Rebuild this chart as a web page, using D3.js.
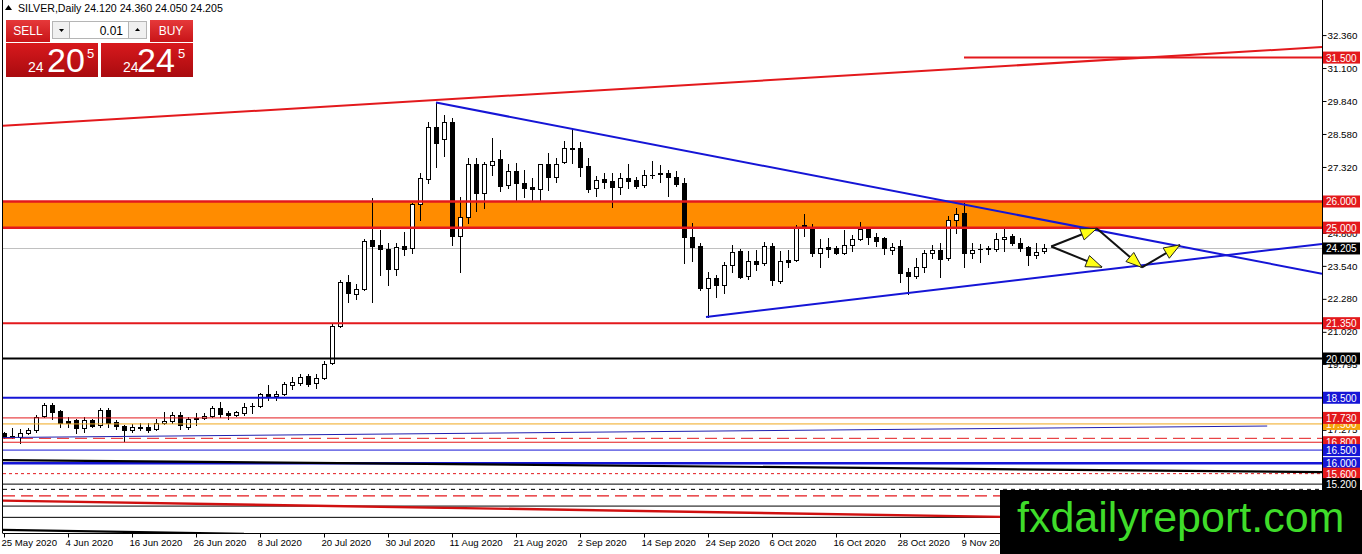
<!DOCTYPE html>
<html>
<head>
<meta charset="utf-8">
<script src="https://cdn.jsdelivr.net/npm/d3@7"></script>
<style>
  body { margin: 0; background: #fff; }
  svg { display: block; font-family: "Liberation Sans", Arial, sans-serif; }
</style>
</head>
<body>
<svg id="chart"></svg>
<script>
// ---- chart values ----
var open = [17.15,17.00,17.00,17.15,17.25,17.80,18.22,17.98,17.60,17.65,17.35,17.65,17.45,18.05,17.57,17.42,17.25,17.40,17.38,17.30,
  17.52,17.60,17.85,17.38,17.68,17.72,17.80,18.10,17.90,17.85,17.90,18.18,18.20,18.65,18.55,18.65,19.00,19.05,19.33,19.08,
  19.25,19.82,21.24,22.92,22.48,22.65,24.52,24.33,24.20,23.42,24.30,24.22,25.90,26.87,28.85,28.40,29.04,24.70,25.42,27.43,
  26.34,27.38,27.61,26.63,27.17,26.70,26.57,26.47,27.43,26.92,27.50,28.05,28.03,27.36,26.50,26.85,26.80,26.57,26.90,26.82,
  26.63,27.00,27.05,27.10,26.92,26.69,24.66,24.30,22.68,23.07,22.81,23.57,24.11,23.15,23.73,23.64,24.30,22.97,23.77,23.77,
  25.06,25.04,24.05,24.27,24.23,24.05,24.34,24.55,24.94,24.63,24.60,24.15,24.30,23.32,23.15,23.51,24.02,24.15,23.83,25.30,
  25.55,24.02,24.17,24.20,24.20,24.56,24.68,24.40,24.25,23.96,24.12];
var high = [17.20,17.35,17.30,17.35,17.85,18.30,18.30,18.05,17.75,17.70,17.75,17.70,18.10,18.10,17.65,17.45,17.50,17.55,17.55,17.68,
  17.95,17.95,17.95,17.78,17.90,17.90,18.18,18.35,18.00,18.00,18.30,18.30,18.70,18.99,18.75,19.10,19.30,19.40,19.40,19.40,
  19.90,21.30,23.00,23.20,22.85,24.55,26.13,24.90,24.40,24.40,24.82,25.95,27.10,29.04,29.78,29.30,29.19,26.18,27.66,27.66,
  27.52,28.42,27.97,27.43,27.48,27.20,26.89,27.45,27.84,27.65,28.32,28.80,28.29,27.65,26.97,27.10,27.08,27.10,27.43,26.95,
  27.20,27.55,27.40,27.20,27.16,26.89,25.16,24.43,23.32,23.19,23.70,24.34,24.20,24.10,24.15,24.47,24.43,24.10,24.15,25.10,
  25.52,25.14,24.56,24.60,24.30,24.91,24.73,25.23,24.96,24.80,24.66,24.40,24.53,23.45,23.83,24.15,24.34,24.43,25.43,25.74,
  25.93,24.43,24.37,24.30,24.79,24.94,24.76,24.60,24.30,24.43,24.36];
var low = [16.95,16.95,16.78,17.10,17.20,17.75,17.68,17.38,17.38,17.15,17.20,17.38,17.40,17.40,17.32,16.85,17.20,17.25,17.20,17.27,
  17.50,17.55,17.30,17.32,17.45,17.70,17.75,17.75,17.70,17.80,17.85,17.90,18.15,18.40,18.40,18.60,18.85,19.00,18.95,18.88,
  19.20,19.80,21.20,22.15,22.28,22.60,22.16,23.20,22.80,23.20,23.95,24.05,25.30,26.70,27.32,27.75,24.34,23.32,25.19,25.65,
  25.74,27.01,26.41,26.51,26.03,26.18,26.06,26.06,26.44,26.76,27.46,27.48,26.97,26.38,26.21,26.50,25.78,26.30,26.50,26.50,
  26.56,26.90,26.75,26.20,26.60,23.64,23.74,22.62,21.60,22.34,22.49,23.32,23.07,23.05,23.38,23.57,22.81,22.90,23.50,23.74,
  24.68,23.90,23.49,23.87,23.98,23.99,24.12,24.53,24.38,24.30,23.99,23.99,22.94,22.47,23.07,23.32,23.83,23.13,23.75,24.81,
  23.49,23.83,23.70,23.98,24.10,24.12,24.33,24.12,23.57,23.83,24.05];
var close = [17.00,17.02,17.15,17.27,17.78,18.22,17.95,17.55,17.52,17.35,17.65,17.42,18.05,17.55,17.42,17.25,17.38,17.35,17.28,17.52,
  17.62,17.85,17.45,17.70,17.72,17.82,18.10,17.88,17.85,17.95,18.15,18.20,18.65,18.55,18.65,19.02,19.12,19.30,19.02,19.27,
  19.80,21.25,22.93,22.50,22.65,24.50,24.30,24.18,23.42,24.25,24.20,25.90,26.90,28.85,28.24,29.04,24.69,25.42,27.43,26.34,
  27.43,27.56,26.59,27.17,26.70,26.53,26.47,27.43,26.92,27.43,28.03,28.00,27.33,26.47,26.82,26.76,26.57,26.90,26.80,26.60,
  27.00,27.02,27.08,26.92,26.67,24.63,24.27,22.68,23.07,22.81,23.57,24.08,23.13,23.73,23.61,24.30,23.00,23.73,23.70,25.04,
  25.10,24.05,24.21,24.20,24.05,24.34,24.56,24.94,24.63,24.50,24.21,24.25,23.28,23.15,23.51,24.05,24.15,23.79,25.30,25.52,
  24.02,24.15,24.20,24.22,24.56,24.66,24.40,24.22,23.96,24.08,24.205];

var dateLabels = ["25 May 2020","4 Jun 2020","16 Jun 2020","26 Jun 2020","8 Jul 2020","20 Jul 2020","30 Jul 2020",
  "11 Aug 2020","21 Aug 2020","2 Sep 2020","14 Sep 2020","24 Sep 2020","6 Oct 2020","16 Oct 2020","28 Oct 2020","9 Nov 2020"];
var dateIdx = [0,8,16,24,32,40,48,56,64,72,80,88,96,104,112,120];

var priceTicks = [32.36,31.10,29.84,28.58,27.32,26.06,24.80,23.54,22.28,21.02,19.795,17.275];

// horizontal levels (price, and where they start in bars)
var levelPrices = [31.5,26.0,25.0,21.35,20.0,18.5,17.5,17.73,16.95,16.8,16.5,16.0,15.6,15.2,15.0,14.75,14.36,13.93];
var levelStart  = [120,-1,-1,-1,-1,-1,-1,-1,-1,-1,-1,-1,-1,-1,-1,-1,-1,-1];
var bandRange = [25.0, 26.0];
var lastPrice = 24.205;

// trend lines as [bar, price] anchors
var redTrend   = [[-0.125,28.89],[164.75,31.90]];
var blueDown   = [[54,29.78],[164.75,23.24]];
var blueUp     = [[87.75,21.59],[164.75,24.38]];
var thinBlue   = [[-0.125,16.98],[157.9,17.42]];
var blackSlope = [[-0.125,16.12],[164.75,15.66]];
var redSlope   = [[-0.125,14.57],[164.75,13.75]];
var blackLow   = [[-0.125,13.45],[30,13.30]];

// projection arrows [bar, price] from -> to
var arrows = [
  [[130.9,24.28],[136.6,24.97]],
  [[136.6,24.97],[142.25,23.48]],
  [[142.25,23.48],[147,24.34]],
  [[130.9,24.28],[137.25,23.49]]
];

// ---- styles ----
var RED = "#e3191c", BLUE = "#1515d6", BLACK = "#000", GOLD = "#f0a81e";
var levelStyle = [
  {c:RED,w:2,box:RED},{c:RED,w:2.5,box:RED},{c:RED,w:2.5,box:RED},{c:RED,w:2,box:RED},
  {c:BLACK,w:2,box:BLACK},{c:BLUE,w:2,box:BLUE},{c:GOLD,w:1,box:"#f5a10a"},{c:RED,w:1,box:RED},
  {c:RED,w:1,d:"12,6"},{c:RED,w:1,box:RED},{c:BLUE,w:1,box:BLUE},{c:BLUE,w:2.5,box:BLUE},
  {c:RED,w:1,d:"3,3",box:RED},{c:BLACK,w:1,box:BLACK},{c:BLACK,w:1,d:"4,4"},{c:RED,w:1.2,d:"12,6"},
  {c:BLACK,w:1},{c:BLACK,w:1}
];

var W = 1362, H = 554;
var svg = d3.select("#chart").attr("width", W).attr("height", H);
svg.append("rect").attr("width", W).attr("height", H).attr("fill", "#fff");

var x = d3.scaleLinear().domain([0, 164.75]).range([4, 1322]);
var y = d3.scaleLinear().domain([13.37, 33.70]).range([532, 0]);
var fmt = d3.format(".3f");

svg.append("clipPath").attr("id", "plot")
  .append("rect").attr("x", 3).attr("y", 0).attr("width", 1319).attr("height", 533);
var g = svg.append("g").attr("clip-path", "url(#plot)");

// orange zone
g.append("rect")
  .attr("x", 3).attr("width", 1319)
  .attr("y", y(bandRange[1])).attr("height", y(bandRange[0]) - y(bandRange[1]))
  .attr("fill", "#ff8c00");

// bid line
g.append("line").attr("x1", 3).attr("x2", 1322)
  .attr("y1", Math.round(y(lastPrice)) + 0.5).attr("y2", Math.round(y(lastPrice)) + 0.5)
  .attr("stroke", "#c0c0c0");

// candles
var bars = d3.range(open.length);
var cg = g.selectAll("g.c").data(bars).enter().append("g");
cg.append("line")
  .attr("x1", function(i) { return Math.round(x(i)) + 0.5; })
  .attr("x2", function(i) { return Math.round(x(i)) + 0.5; })
  .attr("y1", function(i) { return Math.round(y(high[i])); })
  .attr("y2", function(i) { return Math.round(y(low[i])) + 1; })
  .attr("stroke", "#000");
cg.append("rect")
  .attr("x", function(i) { return Math.round(x(i)) - 2 + 0.5; })
  .attr("width", 4)
  .attr("y", function(i) { return Math.round(y(Math.max(open[i], close[i]))) + 0.5; })
  .attr("height", function(i) {
    return Math.max(0.01, Math.round(y(Math.min(open[i], close[i]))) - Math.round(y(Math.max(open[i], close[i]))));
  })
  .attr("fill", function(i) { return close[i] >= open[i] ? "#fff" : "#000"; })
  .attr("stroke", "#000");

// horizontal levels
levelPrices.forEach(function(p, k) {
  var s = levelStyle[k];
  var yy = y(p);
  g.append("line")
    .attr("x1", levelStart[k] < 0 ? 3 : x(levelStart[k])).attr("x2", 1322)
    .attr("y1", yy).attr("y2", yy)
    .attr("stroke", s.c).attr("stroke-width", s.w)
    .attr("stroke-dasharray", s.d || null);
});

// trend lines
var line = d3.line().x(function(d) { return x(d[0]); }).y(function(d) { return y(d[1]); });
[[redTrend, RED, 2], [blueDown, BLUE, 2], [blueUp, BLUE, 2], [thinBlue, "#2020b0", 1],
 [blackSlope, BLACK, 2.2], [redSlope, "#d01010", 2.4], [blackLow, BLACK, 2.2]].forEach(function(t) {
  g.append("path").attr("d", line(t[0])).attr("fill", "none")
    .attr("stroke", t[1]).attr("stroke-width", t[2]);
});

// arrows
arrows.forEach(function(a) {
  var x1 = x(a[0][0]), y1 = y(a[0][1]), x2 = x(a[1][0]), y2 = y(a[1][1]);
  g.append("line").attr("x1", x1).attr("y1", y1).attr("x2", x2).attr("y2", y2)
    .attr("stroke", "#111").attr("stroke-width", 2);
  var ang = Math.atan2(y2 - y1, x2 - x1), L = 16, hw = 6;
  var bx = x2 - L * Math.cos(ang), by = y2 - L * Math.sin(ang);
  var px = -Math.sin(ang) * hw, py = Math.cos(ang) * hw;
  g.append("path")
    .attr("d", "M" + x2 + "," + y2 + "L" + (bx + px) + "," + (by + py) + "L" + (bx - px) + "," + (by - py) + "Z")
    .attr("fill", "#ffff14").attr("stroke", "#222").attr("stroke-width", 1);
});

// frame
svg.append("line").attr("x1", 2.5).attr("x2", 2.5).attr("y1", 0).attr("y2", 533).attr("stroke", "#000");

// bottom axis
var xAxis = svg.append("g").attr("transform", "translate(0,533.5)")
  .call(d3.axisBottom(x).tickValues(dateIdx).tickSize(4).tickSizeOuter(0)
    .tickFormat(function(d, i) { return dateLabels[i]; }));
xAxis.select(".domain").attr("d", "M2.5,0H1322.5").attr("stroke", "#000");
xAxis.selectAll("text").attr("text-anchor", "start").attr("dx", "-3")
  .attr("y", 6).attr("font-size", "9.6px").attr("font-family", "Liberation Sans, Arial, sans-serif").attr("fill", "#000");

// right axis
var yAxis = svg.append("g").attr("transform", "translate(1322.5,0)")
  .call(d3.axisRight(y).tickValues(priceTicks).tickSize(4).tickSizeOuter(0).tickFormat(fmt));
yAxis.select(".domain").attr("d", "M0,0V533.5").attr("stroke", "#000");
yAxis.selectAll("text").attr("x", 5).attr("font-size", "9.8px")
  .attr("font-family", "Liberation Sans, Arial, sans-serif").attr("fill", "#000");

// level price boxes
var boxes = [];
levelPrices.forEach(function(p, k) { if (levelStyle[k].box) boxes.push([p, levelStyle[k].box]); });
boxes.splice(3, 0, [lastPrice, "#000"]);
boxes.forEach(function(b) {
  var yy = y(b[0]);
  svg.append("rect").attr("x", 1323).attr("y", yy - 6).attr("width", 37).attr("height", 12).attr("fill", b[1]);
  svg.append("text").attr("x", 1326).attr("y", yy + 4).attr("font-size", "10px").attr("fill", "#fff").text(fmt(b[0]));
});

// header
svg.append("path").attr("d", "M5,10L8.5,5L12,10Z").attr("fill", "#000");
svg.append("text").attr("x", 18).attr("y", 12).attr("font-size", "10.6px").attr("fill", "#000")
  .text("SILVER,Daily  24.120 24.360 24.050 24.205");

// one-click trading panel
var defs = svg.append("defs");
var gb = defs.append("linearGradient").attr("id", "btn").attr("x1", 0).attr("x2", 0).attr("y1", 0).attr("y2", 1);
gb.append("stop").attr("offset", 0).attr("stop-color", "#e6393a");
gb.append("stop").attr("offset", 1).attr("stop-color", "#c81418");
var gp = defs.append("linearGradient").attr("id", "big").attr("x1", 0).attr("x2", 0).attr("y1", 0).attr("y2", 1);
gp.append("stop").attr("offset", 0).attr("stop-color", "#d8191d");
gp.append("stop").attr("offset", 1).attr("stop-color", "#a90b0f");

var panel = svg.append("g");
panel.append("rect").attr("x", 5).attr("y", 19).attr("width", 189).attr("height", 59).attr("fill", "#fff");
panel.append("rect").attr("x", 6).attr("y", 20).attr("width", 44).attr("height", 22).attr("fill", "url(#btn)");
panel.append("rect").attr("x", 150).attr("y", 20).attr("width", 43).attr("height", 22).attr("fill", "url(#btn)");
panel.append("text").attr("x", 28).attr("y", 35).attr("text-anchor", "middle").attr("font-size", "12px").attr("fill", "#fff").text("SELL");
panel.append("text").attr("x", 171).attr("y", 35).attr("text-anchor", "middle").attr("font-size", "12px").attr("fill", "#fff").text("BUY");
panel.append("rect").attr("x", 52.5).attr("y", 21.5).attr("width", 17).attr("height", 17).attr("fill", "#f0f0f0").attr("stroke", "#b5b5b5");
panel.append("rect").attr("x", 69.5).attr("y", 21.5).attr("width", 59).attr("height", 17).attr("fill", "#fff").attr("stroke", "#b5b5b5");
panel.append("rect").attr("x", 128.5).attr("y", 21.5).attr("width", 18).attr("height", 17).attr("fill", "#f0f0f0").attr("stroke", "#b5b5b5");
panel.append("path").attr("d", "M59,29L64,29L61.5,32Z").attr("fill", "#000");
panel.append("path").attr("d", "M135,31L140,31L137.5,28Z").attr("fill", "#000");
panel.append("text").attr("x", 123).attr("y", 35).attr("text-anchor", "end").attr("font-size", "12px").attr("fill", "#000").text("0.01");
panel.append("rect").attr("x", 6).attr("y", 43).attr("width", 92).attr("height", 34).attr("fill", "url(#big)");
panel.append("rect").attr("x", 101).attr("y", 43).attr("width", 92).attr("height", 34).attr("fill", "url(#big)");
[[28, 47, 87, "20"], [123, 137, 178, "24"]].forEach(function(q) {
  panel.append("text").attr("x", q[0]).attr("y", 72).attr("font-size", "14px").attr("fill", "#fff").text("24");
  panel.append("text").attr("x", q[1]).attr("y", 72).attr("font-size", "34px").attr("fill", "#fff").text(q[3]);
  panel.append("text").attr("x", q[2]).attr("y", 58).attr("font-size", "13px").attr("fill", "#fff").text("5");
});

// watermark
svg.append("rect").attr("x", 1000).attr("y", 490).attr("width", 362).attr("height", 64).attr("fill", "#000");
svg.append("text").attr("x", 1017).attr("y", 532).attr("font-size", "43px").attr("fill", "#3fdc2a")
  .text("fxdailyreport.com");
</script>
</body>
</html>
